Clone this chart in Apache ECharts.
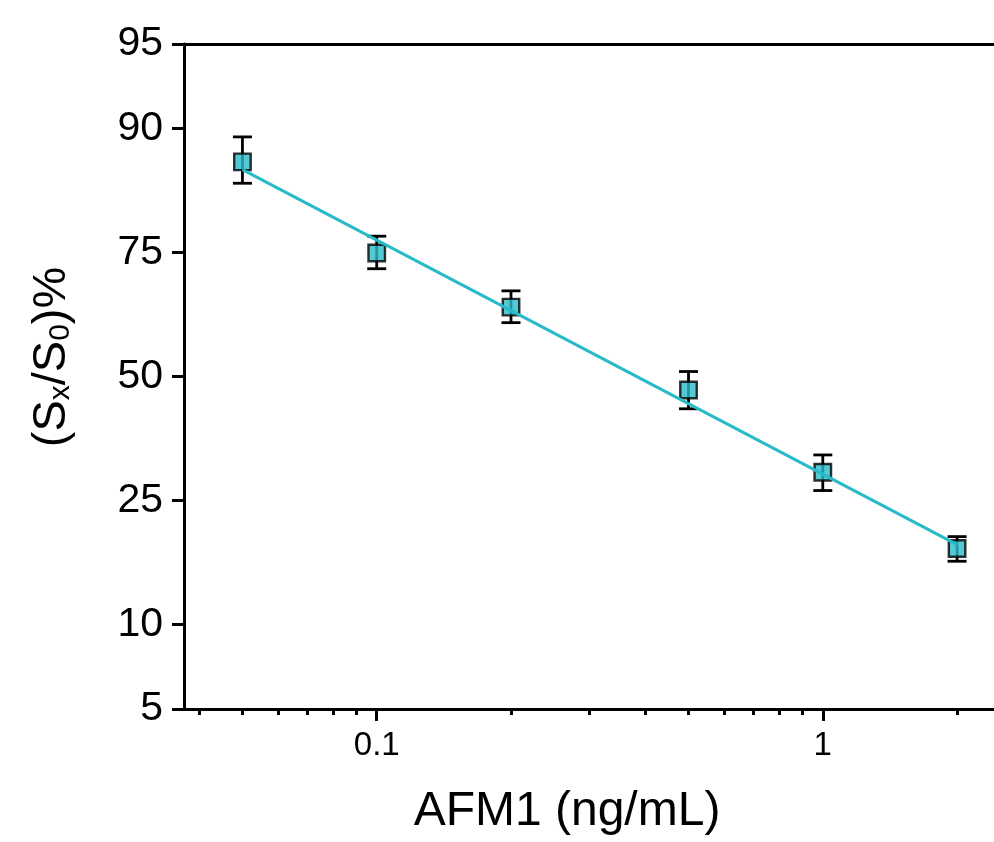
<!DOCTYPE html>
<html>
<head>
<meta charset="utf-8">
<script src="https://cdn.jsdelivr.net/npm/echarts@6/dist/echarts.min.js"></script>
<style>
html,body{margin:0;padding:0;background:#fff;}
#chart{width:994px;height:842px;}
</style>
</head>
<body>
<div id="chart"></div>
<script>
// ---- data ----
const concentrations = [0.05, 0.1, 0.2, 0.5, 1, 2];          // AFM1 ng/mL
const ratioPercent   = [87.0, 74.9, 64.9, 47.0, 30.0, 17.9];  // (Sx/S0)%
const ratioError     = [2.3, 2.7, 3.2, 4.1, 3.3, 1.6];
const fitConc        = [0.05, 2];
const fitPercent     = [86.2, 18.4];
const yTickPercent   = [5, 10, 25, 50, 75, 90, 95];
const xMajorTicks    = [0.1, 1];
const xMinorTicks    = [0.04, 0.05, 0.06, 0.07, 0.08, 0.09, 0.2, 0.3, 0.4, 0.5, 0.6, 0.7, 0.8, 0.9, 2];
const xRange         = [0.03698, 2.42];

// ---- scale transforms (log x, logit y) ----
const lx = v => Math.log10(v);
const logit = p => Math.log((p / 100) / (1 - p / 100));
const invLogit = v => 100 / (1 + Math.exp(-v));

const FONT = '"Liberation Sans", Arial, sans-serif';
const TEAL = '#29bac8';

const pointData = concentrations.map((c, i) => [lx(c), logit(ratioPercent[i])]);
const errData = concentrations.map((c, i) => [lx(c), logit(ratioPercent[i] + ratioError[i]), logit(ratioPercent[i] - ratioError[i])]);
const fitData = fitConc.map((c, i) => [lx(c), logit(fitPercent[i])]);

const yMin = logit(yTickPercent[0]);
const yMax = logit(yTickPercent[yTickPercent.length - 1]);
const yTicks = yTickPercent.map(logit);
const xMin = lx(xRange[0]), xMax = lx(xRange[1]);

const chart = echarts.init(document.getElementById('chart'), null, {renderer: 'canvas'});
chart.setOption({
  animation: false,
  backgroundColor: '#fff',
  grid: {left: 184, right: 0, top: 44, bottom: 133, containLabel: false},
  xAxis: [
    {
      type: 'value', position: 'bottom', min: xMin, max: xMax,
      axisLine: {show: true, onZero: false, lineStyle: {color: '#000', width: 3}},
      axisTick: {show: true, inside: false, length: 12, lineStyle: {color: '#000', width: 3},
                 customValues: xMajorTicks.map(lx)},
      axisLabel: {show: true, margin: 20, fontSize: 33, color: '#000', fontFamily: FONT,
                  customValues: xMajorTicks.map(lx),
                  formatter: v => { const t = xMajorTicks.find(t => Math.abs(lx(t) - v) < 1e-9); return t === undefined ? '' : String(t); }},
      splitLine: {show: false}
    },
    {
      type: 'value', position: 'bottom', min: xMin, max: xMax,
      axisLine: {show: false, onZero: false},
      axisTick: {show: true, inside: false, length: 6, lineStyle: {color: '#000', width: 3},
                 customValues: xMinorTicks.map(lx)},
      axisLabel: {show: false},
      splitLine: {show: false}
    },
    {
      type: 'value', position: 'top', min: xMin, max: xMax,
      axisLine: {show: true, onZero: false, lineStyle: {color: '#000', width: 3}},
      axisTick: {show: false}, axisLabel: {show: false}, splitLine: {show: false}
    }
  ],
  yAxis: [{
    type: 'value', position: 'left', min: yMin, max: yMax,
    axisLine: {show: true, onZero: false, lineStyle: {color: '#000', width: 3}},
    axisTick: {show: true, inside: false, length: 12, lineStyle: {color: '#000', width: 3}, customValues: yTicks},
    axisLabel: {show: true, margin: 21, fontSize: 41, color: '#000', fontFamily: FONT, customValues: yTicks,
                formatter: v => String(Math.round(invLogit(v)))},
    splitLine: {show: false}
  }],
  graphic: [
    {type: 'text', x: 567, y: 812, z: 100,
     style: {text: 'AFM1 (ng/mL)', fontSize: 48, fontFamily: FONT, fill: '#000', align: 'center', verticalAlign: 'middle'}},
    {type: 'text', x: 52, y: 357, rotation: Math.PI / 2, z: 100,
     style: {text: '(S{sub|x}/S{sub|0})%', fontSize: 47, lineHeight: 47, fontFamily: FONT, fill: '#000',
             align: 'center', verticalAlign: 'middle',
             rich: {sub: {fontSize: 30, lineHeight: 18, fontFamily: FONT, fill: '#000', verticalAlign: 'bottom'}}}}
  ],
  series: [
    {
      type: 'custom', xAxisIndex: 0, yAxisIndex: 0, z: 2,
      data: errData,
      renderItem: (params, api) => {
        const x = api.value(0);
        const top = api.coord([x, api.value(1)]);
        const bot = api.coord([x, api.value(2)]);
        const hw = 9.5;
        const st = {stroke: '#000', lineWidth: 2.8};
        return {type: 'group', children: [
          {type: 'line', shape: {x1: top[0], y1: top[1], x2: bot[0], y2: bot[1]}, style: st},
          {type: 'line', shape: {x1: top[0] - hw, y1: top[1], x2: top[0] + hw, y2: top[1]}, style: st},
          {type: 'line', shape: {x1: bot[0] - hw, y1: bot[1], x2: bot[0] + hw, y2: bot[1]}, style: st}
        ]};
      }
    },
    {
      type: 'scatter', xAxisIndex: 0, yAxisIndex: 0, z: 3,
      symbol: 'rect', symbolSize: 16.5,
      itemStyle: {color: TEAL, borderColor: '#000', borderWidth: 2.4},
      data: pointData
    },
    {
      type: 'line', xAxisIndex: 0, yAxisIndex: 0, z: 4,
      symbol: 'none', lineStyle: {color: TEAL, width: 3},
      data: fitData
    }
  ]
});
</script>
</body>
</html>
